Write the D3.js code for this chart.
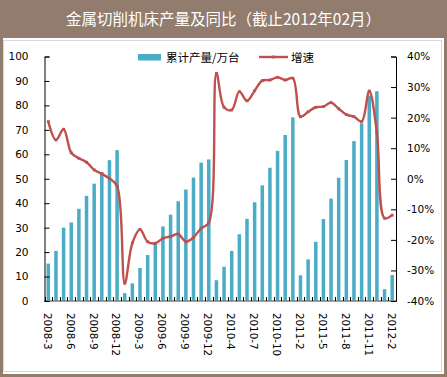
<!DOCTYPE html>
<html>
<head>
<meta charset="utf-8">
<script src="https://cdn.jsdelivr.net/npm/d3@7/dist/d3.min.js"></script>
<style>
  body { margin: 0; background: #fff; }
  svg { display: block; }
</style>
</head>
<body>
<svg id="chart" width="447" height="377"></svg>
<script>
// months shown on the category axis (Jan figures merged into Feb for 2010 and 2011)
const months = [
  '2008-3', '2008-4', '2008-5', '2008-6', '2008-7', '2008-8', '2008-9', '2008-10', '2008-11', '2008-12',
  '2009-1', '2009-2', '2009-3', '2009-4', '2009-5', '2009-6', '2009-7', '2009-8', '2009-9', '2009-10', '2009-11', '2009-12',
  '2010-2', '2010-3', '2010-4', '2010-5', '2010-6', '2010-7', '2010-8', '2010-9', '2010-10', '2010-11', '2010-12',
  '2011-2', '2011-3', '2011-4', '2011-5', '2011-6', '2011-7', '2011-8', '2011-9', '2011-10', '2011-11', '2011-12',
  '2012-1', '2012-2'
];

// 累计产量 (万台)
const output = [
  15.3, 20.5, 30.0, 32.1, 37.7, 43.0, 48.0, 52.7, 57.6, 61.7,
  3.2, 7.2, 13.5, 18.8, 24.0, 30.5, 35.3, 40.8, 45.6, 50.5, 56.6, 57.9,
  8.5, 14.0, 20.5, 27.3, 33.6, 40.4, 47.3, 54.5, 61.4, 67.9, 75.1,
  10.5, 17.0, 24.2, 33.5, 41.9, 50.4, 57.7, 65.4, 72.7, 84.0, 85.8,
  4.8, 10.6
];

// 增速 (%)
const growth = [
  18.7, 12.7, 16.2, 8.5, 6.7, 5.4, 2.9, 1.6, 0.1, -2.4,
  -34.2, -21.0, -16.6, -20.6, -21.1, -19.5, -18.9, -18.1, -20.6, -19.2, -16.2, -14.4,
  34.5, 23.4, 22.5, 28.5, 25.5, 28.8, 32.1, 32.3, 33.2, 32.3, 32.9,
  20.3, 21.9, 23.4, 23.6, 24.9, 22.9, 21.0, 20.3, 18.7, 28.7, 15.1,
  -12.9, -11.9
];

const leftTicks = [0, 10, 20, 30, 40, 50, 60, 70, 80, 90, 100];
const rightTicks = [-40, -30, -20, -10, 0, 10, 20, 30, 40];

const title = '金属切削机床产量及同比（截止2012年02月）';
const barName = '累计产量/万台';
const lineName = '增速';

const barColor = '#4bacc6';
const lineColor = '#c0504d';
const frameColor = '#917c6e';
const tickFont = 'DejaVu Sans, Verdana, sans-serif';
const cjkFont = '"Noto Sans CJK SC", sans-serif';

const svg = d3.select('#chart');
const W = 447, H = 377;
const plot = { left: 44.5, right: 396, top: 56.5, bottom: 301 };

// frame + title bar
svg.append('rect').attr('width', W).attr('height', H).attr('fill', frameColor);
svg.append('rect').attr('x', 3).attr('y', 38).attr('width', 441).attr('height', 336).attr('fill', '#fff');
svg.append('rect').attr('x', 3.5).attr('y', 40.5).attr('width', 438).attr('height', 331)
  .attr('fill', 'none').attr('stroke', '#d9d9d9');

svg.append('text')
  .attr('x', W / 2).attr('y', 25)
  .attr('text-anchor', 'middle')
  .attr('fill', '#fff')
  .style('font-family', cjkFont)
  .style('font-size', '15.5px')
  .text(title);

const x = d3.scaleBand().domain(months).range([plot.left, plot.right]).padding(0);
const yL = d3.scaleLinear().domain([0, 100]).range([plot.bottom, plot.top]);
const yR = d3.scaleLinear().domain([-40, 40]).range([plot.bottom, plot.top]);

const barW = x.bandwidth() * 0.46;

// bars
svg.append('g').selectAll('rect')
  .data(months)
  .enter().append('rect')
  .attr('x', (d, i) => x(d) + (x.bandwidth() - barW) / 2)
  .attr('y', (d, i) => yL(output[i]))
  .attr('width', barW)
  .attr('height', (d, i) => yL(0) - yL(output[i]))
  .attr('fill', barColor);

// x axis
const xAxis = svg.append('g').attr('transform', `translate(0,${plot.bottom})`);
xAxis.append('line')
  .attr('x1', plot.left).attr('x2', plot.right)
  .attr('stroke', '#7f7f7f').attr('stroke-width', 1.5);
xAxis.selectAll('.tk')
  .data(months.concat(['_end']))
  .enter().append('line')
  .attr('x1', (d, i) => Math.round(plot.left + i * x.step()) + 0.5)
  .attr('x2', (d, i) => Math.round(plot.left + i * x.step()) + 0.5)
  .attr('y1', 0).attr('y2', -4)
  .attr('stroke', '#000');
xAxis.selectAll('.lbl')
  .data(months.filter((d, i) => i % 3 === 0))
  .enter().append('text')
  .attr('transform', d => `translate(${x(d) + x.bandwidth() / 2 - 1},${12}) rotate(90)`)
  .attr('dy', '0.35em')
  .style('font-family', tickFont)
  .style('font-size', '10.3px')
  .attr('fill', '#000')
  .text(d => d);

// left axis
const axL = svg.append('g')
  .attr('transform', `translate(${plot.left},0)`)
  .call(d3.axisLeft(yL).tickValues(leftTicks).tickSize(-5).tickPadding(16).tickFormat(d3.format('d')));
axL.select('.domain').attr('stroke', '#000');
axL.selectAll('.tick line').attr('stroke', '#000');
axL.selectAll('text').style('font-family', tickFont).style('font-size', '10.5px').attr('fill', '#000');

// right axis
const axR = svg.append('g')
  .attr('transform', `translate(${plot.right},0)`)
  .call(d3.axisRight(yR).tickValues(rightTicks).tickSize(-5).tickPadding(11).tickFormat(d => d + '%'));
axR.select('.domain').attr('stroke', '#000');
axR.selectAll('.tick line').attr('stroke', '#000');
axR.selectAll('text').style('font-family', tickFont).style('font-size', '10.5px').attr('fill', '#000');

// growth line
const line = d3.line()
  .x((d, i) => x(months[i]) + x.bandwidth() / 2)
  .y(d => yR(d))
  .curve(d3.curveCatmullRom.alpha(0.5));

svg.append('path')
  .datum(growth)
  .attr('d', line)
  .attr('fill', 'none')
  .attr('stroke', lineColor)
  .attr('stroke-width', 2.4)
  .attr('stroke-linejoin', 'round');

const marker = d3.symbol().type(d3.symbolSquare).size(8);
svg.append('g').selectAll('path')
  .data(growth)
  .enter().append('path')
  .attr('transform', (d, i) => `translate(${x(months[i]) + x.bandwidth() / 2},${yR(d)})`)
  .attr('d', marker)
  .attr('fill', lineColor);

// legend
const lg = svg.append('g');
lg.append('rect').attr('x', 138).attr('y', 54).attr('width', 23).attr('height', 6.5).attr('fill', barColor);
lg.append('text').attr('x', 166).attr('y', 57.5).attr('dy', '0.35em')
  .style('font-family', cjkFont).style('font-size', '11.5px').attr('fill', '#000')
  .text(barName);
lg.append('line').attr('x1', 259).attr('x2', 288).attr('y1', 57).attr('y2', 57)
  .attr('stroke', lineColor).attr('stroke-width', 2.4);
lg.append('path').attr('transform', 'translate(273.5,57)').attr('d', marker).attr('fill', lineColor);
lg.append('text').attr('x', 291).attr('y', 57.5).attr('dy', '0.35em')
  .style('font-family', cjkFont).style('font-size', '11.5px').attr('fill', '#000')
  .text(lineName);
</script>
</body>
</html>
